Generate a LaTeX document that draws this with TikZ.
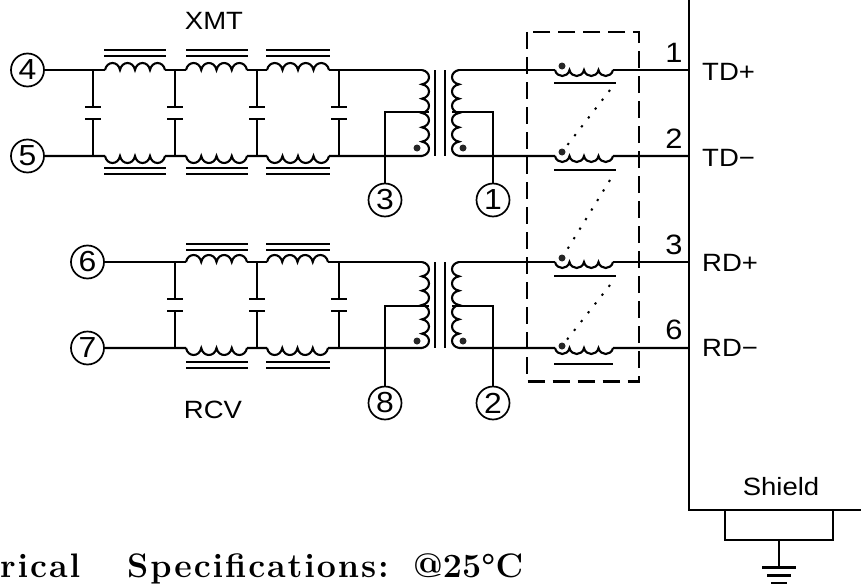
\documentclass[tikz,border=0pt]{standalone}
\usepackage{fontspec}
\setmainfont{Liberation Sans}
\newfontfamily\cad[FakeStretch=1.1]{Liberation Sans}
\newfontfamily\capfont[LetterSpace=5.5]{Latin Modern Roman}
\newfontfamily\capplain{Latin Modern Roman}
\newcommand{\coilpath}[8]{% name, x, y, ux, uy, vx, vy, n
  \coordinate (#1-a) at (#2,#3);
  \draw[wire] (#2,#3) \foreach \i in {1,...,#8} {
    .. controls ({#2+(\i-1+.12)*#4+1.33*#6},{#3+(\i-1+.12)*#5+1.33*#7})
    and ({#2+(\i-.12)*#4+1.33*#6},{#3+(\i-.12)*#5+1.33*#7})
    .. ({#2+\i*#4},{#3+\i*#5})
  };
  \coordinate (#1-b) at ({#2+#8*#4},{#3+#8*#5});
}
\newcommand{\ferrite}[5]{% name, x1, x2, y1, y2 : two core bars around a choke
  \draw[wire] (#2,#4) -- (#3,#4);
  \draw[wire] (#2,#5) -- (#3,#5);
}
\newcommand{\capac}[5]{% name, x, ytop, ybot, plate gap
  \coordinate (#1-t) at (#2,#3);
  \coordinate (#1-b) at (#2,#4);
  \coordinate (#1-p) at (#2,{(#3+#4)/2-#5/2});
  \coordinate (#1-q) at (#2,{(#3+#4)/2+#5/2});
  \draw[wire] (#1-t) -- (#1-p);
  \draw[wire] (#1-b) -- (#1-q);
  \draw[wire] ($(#1-p)+(-8,0)$) -- ($(#1-p)+(8,0)$);
  \draw[wire] ($(#1-q)+(-8,0)$) -- ($(#1-q)+(8,0)$);
}
\usetikzlibrary{calc}
\tikzset{
  wire/.style={line width=2.1pt, line cap=butt},
  pin/.style={circle, draw, line width=1.7pt, minimum size=33pt, inner sep=0pt, font=\cad\fontsize{29}{29}\selectfont},
  lab/.style={inner sep=0pt, font=\cad\fontsize{25}{25}\selectfont},
  num/.style={inner sep=0pt, font=\cad\fontsize{28}{28}\selectfont},
  caption/.style={inner sep=0pt, anchor=base west, font=\capfont\bfseries\fontsize{34}{34}\selectfont},
  captionb/.style={inner sep=0pt, anchor=base west, font=\capplain\bfseries\fontsize{34}{34}\selectfont},
  dotmark/.style={circle, fill=black!85, minimum size=7pt, inner sep=0pt},
  dotline/.style={line width=2pt, dash pattern=on 2.2pt off 9pt},
  dashbox/.style={line width=2.1pt, dash pattern=on 17pt off 8pt},
}
\begin{document}
\begin{tikzpicture}[x=1pt,y=-1pt]
\useasboundingbox (0,0) rectangle (861,586);
% pins
\node[pin] (p4) at (27.5,70) {4};
\node[pin] (p5) at (27.5,156) {5};
\node[pin] (p6) at (87.5,262) {6};
\node[pin] (p7) at (87.5,348) {7};
\node[pin] (p3) at (385,200) {3};
\node[pin] (p1) at (493,200) {1};
\node[pin] (p8) at (385,403) {8};
\node[pin] (p2) at (493,403) {2};
% XMT filter
\coilpath{ta}{105}{70}{15}{0}{0}{-7}{4}
\coilpath{tb}{186}{70}{15.25}{0}{0}{-7}{4}
\coilpath{tc}{267}{70}{15.5}{0}{0}{-7}{4}
\coilpath{ba}{105}{156}{15}{0}{0}{7}{4}
\coilpath{bb}{186}{156}{15.25}{0}{0}{7}{4}
\coilpath{bc}{267}{156}{15.5}{0}{0}{7}{4}
\ferrite{f}{104}{166}{50}{56}
\ferrite{f}{186}{248}{50}{56}
\ferrite{f}{266}{330}{50}{56}
\ferrite{f}{104}{166}{168}{174}
\ferrite{f}{186}{248}{168}{174}
\ferrite{f}{266}{330}{168}{174}
\capac{c1}{93}{70}{156}{12}
\capac{c2}{175}{70}{156}{12}
\capac{c3}{257}{70}{156}{12}
\capac{c4}{339}{70}{156}{12}
% XMT transformer
\coilpath{xl}{422}{70}{0}{14.33}{7}{0}{6}
\coilpath{xr}{459}{70}{0}{14.33}{-7}{0}{6}
\draw[wire] (435,70) -- (435,156);
\draw[wire] (445,70) -- (445,156);
\draw[wire] (p4) -- (ta-a) (ta-b) -- (tb-a) (tb-b) -- (tc-a) (tc-b) -- (xl-a);
\draw[wire] (p5) -- (ba-a) (ba-b) -- (bb-a) (bb-b) -- (bc-a) (bc-b) -- (xl-b);
\coordinate (tapl) at (429,112);
\coordinate (tapr) at (452,112);
\draw[wire] (tapl) -| (p3);
\draw[wire] (tapr) -| (p1);
\node[dotmark] (d1) at (417,148) {};
\node[dotmark] (d2) at (463,148) {};
% XMT common-mode chokes
\coilpath{ma}{555}{70}{14.5}{0}{0}{6}{4}
\coilpath{mb}{555}{156}{14.5}{0}{0}{6}{4}
\draw[wire] (554,83) -- (616,83);
\draw[wire] (554,170) -- (616,170);
\node[dotmark] (d3) at (562,66) {};
\node[dotmark] (d4) at (562,152) {};
\coordinate (e1) at (689,70);
\coordinate (e2) at (689,156);
\draw[wire] (xr-a) -- (ma-a) (ma-b) -- (e1);
\draw[wire] (xr-b) -- (mb-a) (mb-b) -- (e2);
% RCV filter
\coilpath{tb2}{186}{262}{15.25}{0}{0}{-7}{4}
\coilpath{tc2}{267}{262}{15.25}{0}{0}{-7}{4}
\coilpath{bb2}{186}{348}{15.25}{0}{0}{7}{4}
\coilpath{bc2}{267}{348}{15.25}{0}{0}{7}{4}
\ferrite{f}{186}{248}{244}{250}
\ferrite{f}{266}{330}{244}{250}
\ferrite{f}{186}{248}{362}{368}
\ferrite{f}{266}{330}{362}{368}
\capac{c5}{175}{262}{348}{12}
\capac{c6}{257}{262}{348}{12}
\capac{c7}{339}{262}{348}{12}
% RCV transformer
\coilpath{yl}{422}{262}{0}{14.33}{7}{0}{6}
\coilpath{yr}{459}{262}{0}{14.33}{-7}{0}{6}
\draw[wire] (435,262) -- (435,348);
\draw[wire] (445,262) -- (445,348);
\draw[wire] (p6) -- (tb2-a) (tb2-b) -- (tc2-a) (tc2-b) -- (yl-a);
\draw[wire] (p7) -- (bb2-a) (bb2-b) -- (bc2-a) (bc2-b) -- (yl-b);
\coordinate (tapl2) at (429,306);
\coordinate (tapr2) at (452,306);
\draw[wire] (tapl2) -| (p8);
\draw[wire] (tapr2) -| (p2);
\node[dotmark] (d5) at (417,341) {};
\node[dotmark] (d6) at (463,341) {};
% RCV common-mode chokes
\coilpath{mc}{555}{262}{14.5}{0}{0}{6}{4}
\coilpath{md}{555}{348}{14.5}{0}{0}{6}{4}
\draw[wire] (554,276) -- (616,276);
\draw[wire] (554,364) -- (613,364);
\node[dotmark] (d7) at (562,258) {};
\node[dotmark] (d8) at (562,346) {};
\coordinate (e3) at (689,262);
\coordinate (e4) at (689,348);
\draw[wire] (yr-a) -- (mc-a) (mc-b) -- (e3);
\draw[wire] (yr-b) -- (md-a) (md-b) -- (e4);
% dotted couplings
\coordinate (s1) at (610,90);
\coordinate (s2) at (610,180);
\coordinate (s3) at (610,285);
\draw[dotline] (s1) -- (d4);
\draw[dotline] (s2) -- (d7);
\draw[dotline] (s3) -- (d8);
% dashed enclosure
\draw[dashbox] (527,32) rectangle (639,381.5);
% connector body
\coordinate (bx1) at (689,0);
\coordinate (bx2) at (689,510);
\coordinate (bx3) at (861,510);
\draw[wire] (bx1) -- (bx2) -- (bx3);
\coordinate (sa) at (725,510);
\coordinate (sb) at (833,510);
\coordinate (g) at (779,567.5);
\draw[wire] (sa) |- (g |- 0,540) -- (g);
\draw[wire] (sb) |- (g |- 0,540);
\draw[wire] (762,567.5) -- (796,567.5);
\draw[wire] (767,575.5) -- (791,575.5);
\draw[wire] (771,583) -- (787,583);
% labels
\node[lab] (lx) at (214,21) {XMT};
\node[lab] (lr) at (213,410) {RCV};
\node[num] (n1) at (674,53) {1};
\node[num] (n2) at (674,139) {2};
\node[num] (n3) at (674,245) {3};
\node[num] (n6) at (674,330) {6};
\node[lab,anchor=west] (t1) at (702,72) {TD+};
\node[lab,anchor=west] (t2) at (702,158) {TD−};
\node[lab,anchor=west] (t3) at (702,263) {RD+};
\node[lab,anchor=west] (t4) at (702,348) {RD−};
\node[lab] (sh) at (781,487) {Shield};
% caption
\node[caption] (cap1) at (0,577) {rical};
\node[caption] (cap2) at (127,577) {Specifications:};
\node[captionb] (cap3) at (413,577) {@25°C};
\end{tikzpicture}
\end{document}
